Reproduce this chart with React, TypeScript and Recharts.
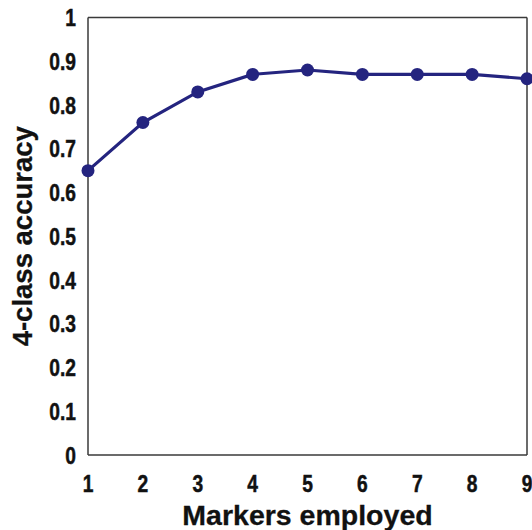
import React from 'react';
import { LineChart, Line, XAxis, YAxis } from 'recharts';

const markers = [1, 2, 3, 4, 5, 6, 7, 8, 9];
const accuracy = [0.65, 0.76, 0.83, 0.87, 0.88, 0.87, 0.87, 0.87, 0.86];
const xLabelTicks = [1, 2, 3, 4, 5, 6, 7, 8, 9];
const xMinorTicks = [1, 1.5, 2, 2.5, 3, 3.5, 4, 4.5, 5, 5.5, 6, 6.5, 7, 7.5, 8, 8.5, 9];
const yTicks = [0, 0.1, 0.2, 0.3, 0.4, 0.5, 0.6, 0.7, 0.8, 0.9, 1];

const data = markers.map((m, i) => ({ m, acc: accuracy[i] }));

const FONT = '"Liberation Sans", Arial, sans-serif';
const AXIS = '#3a3a3a';
const LINE = '#24247f';
const TICK_FS = 24;
const SQUEEZE = 0.8;

const fmtY = (v: number) => (v === 0 || v === 1 ? String(v) : v.toFixed(1));

const XTick = (props: any) => {
  const { x, y, payload } = props;
  return (
    <g transform={`translate(${x},${y})`}>
      <text
        transform={`scale(${SQUEEZE},1)`}
        textAnchor="middle"
        dy="0.71em"
        fontFamily={FONT}
        fontWeight="bold"
        fontSize={TICK_FS}
        fill="#111"
        stroke="#111"
        strokeWidth={0.5}
      >
        {String(payload.value)}
      </text>
    </g>
  );
};

const YTick = (props: any) => {
  const { x, y, payload } = props;
  return (
    <g transform={`translate(${x},${y})`}>
      <text
        transform={`scale(${SQUEEZE},1)`}
        textAnchor="end"
        dy="0.355em"
        fontFamily={FONT}
        fontWeight="bold"
        fontSize={TICK_FS}
        fill="#111"
        stroke="#111"
        strokeWidth={0.5}
      >
        {fmtY(payload.value)}
      </text>
    </g>
  );
};

const YTitle = (props: any) => {
  const vb = props.viewBox || {};
  const cx = vb.x + 22;
  const cy = vb.y + vb.height / 2;
  return (
    <text
      x={cx}
      y={cy}
      transform={`rotate(-90 ${cx} ${cy})`}
      textAnchor="middle"
      dominantBaseline="central"
      fontFamily={FONT}
      fontWeight="bold"
      fontSize={27.5}
      fill="#111"
      stroke="#111"
      strokeWidth={0.3}
    >
      4-class accuracy
    </text>
  );
};

const XTitle = (props: any) => {
  const vb = props.viewBox || {};
  const cx = vb.x + vb.width / 2;
  const cy = vb.y + vb.height - 5;
  return (
    <text
      x={cx}
      y={cy}
      textAnchor="middle"
      fontFamily={FONT}
      fontWeight="bold"
      fontSize={28.5}
      fill="#111"
      stroke="#111"
      strokeWidth={0.3}
    >
      Markers employed
    </text>
  );
};

export default function App() {
  return (
    <div style={{ position: 'absolute', left: 0, top: 0, background: '#fff' }}>
      <LineChart width={532} height={530} data={data} margin={{ top: 17.5, right: 5, bottom: 0, left: 0 }}>
        <XAxis
          xAxisId="main"
          dataKey="m"
          type="number"
          domain={[1, 9]}
          ticks={xLabelTicks}
          height={75}
          tickLine={false}
          tickSize={0}
          tickMargin={20}
          axisLine={{ stroke: AXIS, strokeWidth: 1.5 }}
          tick={<XTick />}
          label={<XTitle />}
        />
        <XAxis
          xAxisId="bottomTicks"
          type="number"
          domain={[1, 9]}
          ticks={xMinorTicks}
          mirror
          tick={false}
          axisLine={false}
          tickSize={5}
          tickLine={{ stroke: AXIS, strokeWidth: 1.2 }}
        />
        <XAxis
          xAxisId="top"
          orientation="top"
          type="number"
          domain={[1, 9]}
          ticks={xMinorTicks}
          mirror
          tick={false}
          axisLine={{ stroke: AXIS, strokeWidth: 1.5 }}
          tickSize={5}
          tickLine={{ stroke: AXIS, strokeWidth: 1.2 }}
        />
        <YAxis
          yAxisId="main"
          type="number"
          domain={[0, 1]}
          ticks={yTicks}
          width={88}
          tickLine={false}
          tickSize={0}
          tickMargin={12}
          axisLine={{ stroke: AXIS, strokeWidth: 1.5 }}
          tick={<YTick />}
          label={<YTitle />}
        />
        <YAxis
          yAxisId="leftTicks"
          type="number"
          domain={[0, 1]}
          ticks={yTicks}
          mirror
          tick={false}
          axisLine={false}
          tickSize={5}
          tickLine={{ stroke: AXIS, strokeWidth: 1.2 }}
        />
        <YAxis
          yAxisId="right"
          orientation="right"
          type="number"
          domain={[0, 1]}
          ticks={yTicks}
          mirror
          tick={false}
          axisLine={{ stroke: AXIS, strokeWidth: 1.5 }}
          tickSize={5}
          tickLine={{ stroke: AXIS, strokeWidth: 1.2 }}
        />
        <Line
          xAxisId="main"
          yAxisId="main"
          dataKey="acc"
          type="linear"
          stroke={LINE}
          strokeWidth={3.2}
          dot={{ r: 6.5, fill: LINE, stroke: LINE, strokeWidth: 0 }}
          isAnimationActive={false}
        />
      </LineChart>
    </div>
  );
}
